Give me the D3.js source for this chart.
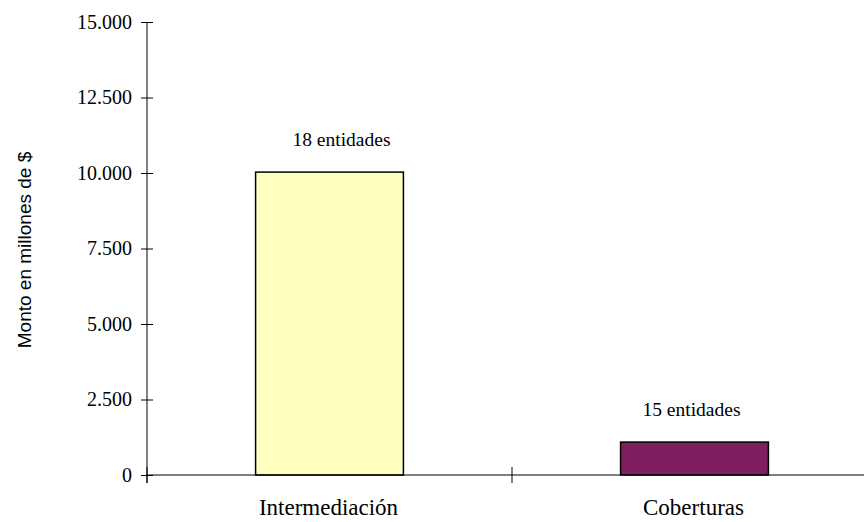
<!DOCTYPE html>
<html>
<head>
<meta charset="utf-8">
<script src="https://cdn.jsdelivr.net/npm/d3@7"></script>
<style>
  html, body { margin: 0; padding: 0; background: #fff; }
  svg { display: block; }
</style>
</head>
<body>
<svg id="chart" width="864" height="522"></svg>
<script>
// Monto por tipo de operación
const categories = ["Intermediación", "Coberturas"];
const values = [10030, 1090];
const barLabels = ["18 entidades", "15 entidades"];
const barColors = ["#FFFFC0", "#7F1F5F"];
const yTicks = [0, 2500, 5000, 7500, 10000, 12500, 15000];
const yTitle = "Monto en millones de $";

const svg = d3.select("#chart");
const plotLeft = 147, plotRight = 877, plotTop = 22, plotBottom = 475;
const serif = "'Liberation Serif', 'Times New Roman', serif";
const labelDx = [12, -3];

const fmt = v => d3.format(",")(v).replace(/,/g, ".");

const x = d3.scaleBand().domain(categories).range([plotLeft, plotRight]).paddingInner(0).paddingOuter(0);
const y = d3.scaleLinear().domain([0, 15000]).range([plotBottom, plotTop]);
const barW = x.bandwidth() * 0.405;

// Bars
svg.selectAll("rect.bar").data(categories).enter().append("rect")
  .attr("class", "bar")
  .attr("x", d => x(d) + x.bandwidth() / 2 - barW / 2)
  .attr("y", (d, i) => y(values[i]))
  .attr("width", barW)
  .attr("height", (d, i) => plotBottom - y(values[i]))
  .attr("fill", (d, i) => barColors[i])
  .attr("stroke", "#000")
  .attr("stroke-width", 1.5);

// Y axis
const yAxis = d3.axisLeft(y).tickValues(yTicks).tickFormat(fmt).tickSizeInner(6).tickSizeOuter(0).tickPadding(8);
const gy = svg.append("g").attr("transform", `translate(${plotLeft},0)`).call(yAxis);
gy.select(".domain").remove();
gy.append("line").attr("x1", 0).attr("x2", 0).attr("y1", plotTop).attr("y2", plotBottom + 8).attr("stroke", "#000");
gy.selectAll(".tick line").attr("x1", -6).attr("x2", 6).attr("stroke", "#000");
gy.selectAll(".tick text")
  .attr("font-family", serif)
  .attr("font-size", 20).attr("fill", "#000").attr("x", -15);

// X axis
const gx = svg.append("g").attr("transform", `translate(0,${plotBottom})`);
gx.append("line").attr("x1", plotLeft).attr("x2", plotRight).attr("y1", 0).attr("y2", 0).attr("stroke", "#000");
const xb = [plotLeft, plotLeft + x.bandwidth(), plotRight];
gx.selectAll("line.xt").data(xb).enter().append("line")
  .attr("class", "xt")
  .attr("x1", d => d).attr("x2", d => d).attr("y1", -8).attr("y2", 8)
  .attr("stroke", "#000");
gx.selectAll("text").data(categories).enter().append("text")
  .attr("x", d => x(d) + x.bandwidth() / 2 - 1)
  .attr("y", 40)
  .attr("text-anchor", "middle")
  .attr("font-family", serif)
  .attr("font-size", 23)
  .text(d => d);

// Bar annotations
svg.selectAll("text.lbl").data(categories).enter().append("text")
  .attr("class", "lbl")
  .attr("x", (d, i) => x(d) + x.bandwidth() / 2 + labelDx[i])
  .attr("y", (d, i) => y(values[i]) - 26)
  .attr("text-anchor", "middle")
  .attr("font-family", serif)
  .attr("font-size", 19.5)
  .text((d, i) => barLabels[i]);

// Y title
svg.append("text")
  .attr("transform", `translate(31,250) rotate(-90)`)
  .attr("text-anchor", "middle")
  .attr("font-family", "'Liberation Sans', Arial, sans-serif")
  .attr("font-size", 19)
  .text(yTitle);
</script>
</body>
</html>
